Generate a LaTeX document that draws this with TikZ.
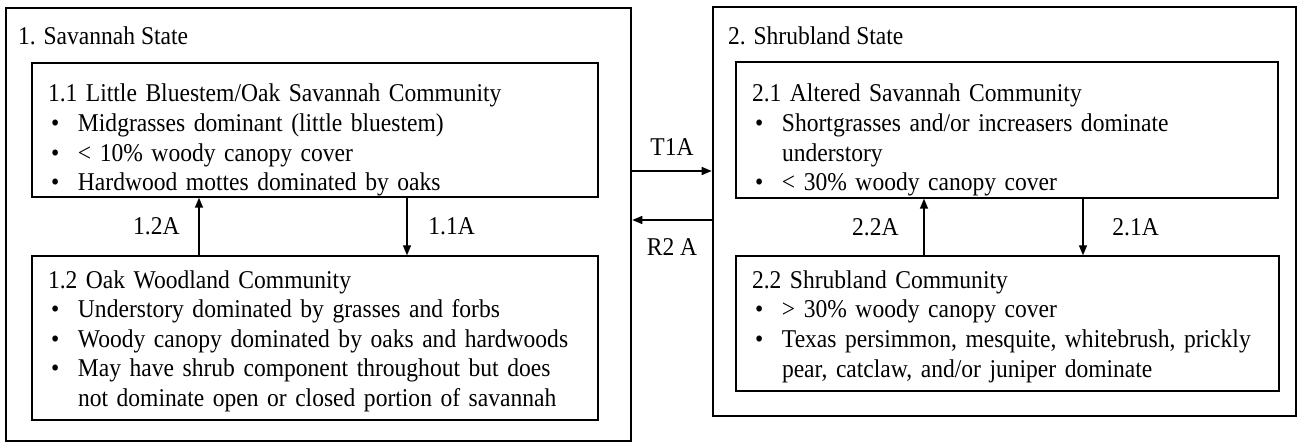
\documentclass[tikz,border=0pt]{standalone}
\usepackage{fontspec}
\setmainfont{Liberation Serif}[FakeStretch=0.92]
\usetikzlibrary{arrows.meta}

\newcommand{\bul}{\hspace*{1.5pt}\makebox[13.5pt][l]{\textbullet}}
\newcommand{\cont}{\hspace*{15pt}}

\begin{document}
\begin{tikzpicture}[x=0.5pt, y=-0.5pt,
  every node/.style = {font=\fontsize{12.8}{14.8}\selectfont},
  state/.style = {draw, line width=1.3pt, inner sep=0pt},
  statetitle/.style = {anchor=west, inner sep=0pt},
  community/.style = {draw, line width=0.7pt, align=left,
    inner xsep=8pt, inner ysep=0pt,
    execute at begin node={\rule{0pt}{#1}}},
  community/.default = 9pt,
  flow/.style = {-{Triangle[length=5pt,width=4pt]}, line width=0.7pt}]
  \useasboundingbox (0,0) rectangle (1298,443);

  % states
  \node[state, minimum width=312.5pt, minimum height=216.5pt] (sav) at (318.5,224.5) {};
  \node[state, minimum width=291.5pt, minimum height=204.5pt] (shr) at (1004.5,211.5) {};
  \node[statetitle] (savt) at ([xshift=6.5pt, yshift=-14.5pt]sav.north west) {1. Savannah State};
  \node[statetitle] (shrt) at ([xshift=8pt, yshift=-15pt]shr.north west) {2. Shrubland State};

  % communities
  \node[community=19pt, text width=267pt, minimum height=67pt] (c11) at (315,130)
    {1.1 Little Bluestem/Oak Savannah Community\\
     \bul Midgrasses dominant (little bluestem)\\
     \bul < 10\% woody canopy cover\\
     \bul Hardwood mottes dominated by oaks};
  \node[community=12pt, text width=267pt, minimum height=82pt] (c12) at (315,338)
    {1.2 Oak Woodland Community\\
     \bul Understory dominated by grasses and forbs\\
     \bul Woody canopy dominated by oaks and hardwoods\\
     \bul May have shrub component throughout but does\\
     \cont not dominate open or closed portion of savannah};
  \node[community=19pt, text width=255pt, minimum height=68pt] (c21) at (1007,130)
    {2.1 Altered Savannah Community\\
     \bul Shortgrasses and/or increasers dominate\\
     \cont understory\\
     \bul < 30\% woody canopy cover};
  \node[community=12pt, text width=255.5pt, minimum height=67.5pt] (c22) at (1007.5,323.5)
    {2.2 Shrubland Community\\
     \bul > 30\% woody canopy cover\\
     \bul Texas persimmon, mesquite, whitebrush, prickly\\
     \cont pear, catclaw, and/or juniper dominate};

  % pathways
  \coordinate (p11) at (407,0);
  \coordinate (p12) at (199,0);
  \coordinate (p21) at (1083,0);
  \coordinate (p22) at (924,0);
  \coordinate (t1) at (0,171);
  \coordinate (r2) at (0,220);
  \draw[flow] (c11.south -| p11) -- node[right=7pt] (l11) {1.1A} (c12.north -| p11);
  \draw[flow] (c12.north -| p12) -- node[left=6pt] (l12) {1.2A} (c11.south -| p12);
  \draw[flow] (c21.south -| p21) -- node[right=11pt] (l21) {2.1A} (c22.north -| p21);
  \draw[flow] (c22.north -| p22) -- node[left=9pt] (l22) {2.2A} (c21.south -| p22);
  \draw[flow] (sav.east |- t1) -- node[above=4pt] (lt1) {T1A} (shr.west |- t1);
  \draw[flow] (shr.west |- r2) -- node[below=5.5pt] (lr2) {R2 A} (sav.east |- r2);
\end{tikzpicture}
\end{document}
